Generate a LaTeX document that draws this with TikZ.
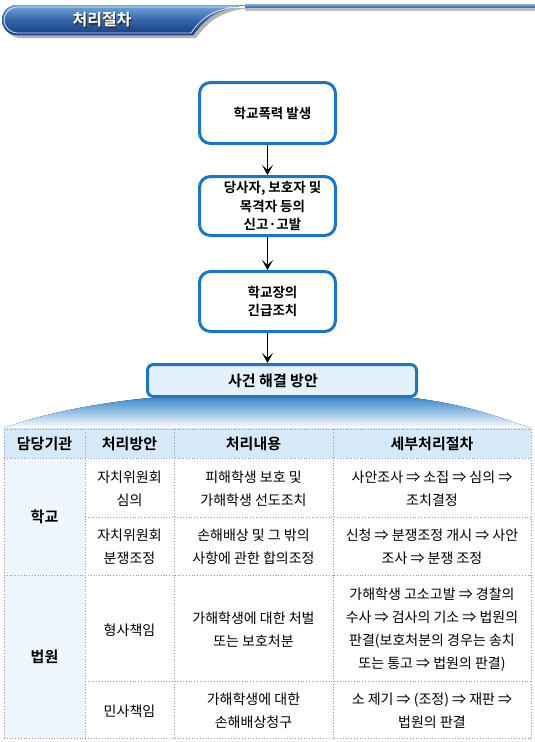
\documentclass[tikz,border=0pt]{standalone}
\usepackage{fontspec}
\setmainfont{Noto Sans CJK KR}[BoldFont={Noto Sans CJK KR Bold}]
\usetikzlibrary{arrows.meta}
\definecolor{boxblue}{RGB}{32,117,192}
\definecolor{bannerfill}{RGB}{226,241,252}
\definecolor{headfill}{RGB}{214,233,248}
\definecolor{colfill}{RGB}{239,246,253}
\definecolor{gridc}{RGB}{150,150,205}
\definecolor{pilltop}{RGB}{120,165,220}
\definecolor{pillmid}{RGB}{52,100,170}
\definecolor{pillbot}{RGB}{22,62,128}
\definecolor{fanblue}{RGB}{62,138,202}
\begin{document}
\begin{tikzpicture}[x=1pt,y=-1pt,
  flowbox/.style={draw=boxblue,line width=3pt,rounded corners=11pt,fill=white,
    minimum width=136pt,inner sep=0pt},
  flowtxt/.style={font=\fontsize{13.5}{18.5}\selectfont\bfseries,align=center,inner sep=0pt},
  arr/.style={-{Stealth[length=10pt,width=11pt,inset=5pt]},line width=0.9pt,black},
  grid/.style={gridc,line width=0.8pt,dotted},
  headtxt/.style={font=\fontsize{15}{17}\selectfont\bfseries,inner sep=0pt},
  celltxt/.style={font=\fontsize{14}{23}\selectfont,align=center,inner sep=0pt},
]
\useasboundingbox (0,0) rectangle (535,742);

% ---- title pill ----
\fill[black!25] (245,7.5) rectangle (535,11);
\fill[black!30] (20,8) -- (252,8) .. controls (218,10) and (206,25) .. (196,38) -- (20,38)
  .. controls (11.7,38) and (5,31.3) .. (5,23) .. controls (5,14.7) and (11.7,8) .. (20,8) -- cycle;
\fill[top color=pilltop,bottom color=pillbot,middle color=pillmid]
  (17,5) -- (250,5) .. controls (215,7) and (203,22) .. (193,35) -- (17,35)
  .. controls (8.7,35) and (2,28.3) .. (2,20) .. controls (2,11.7) and (8.7,5) .. (17,5) -- cycle;
\draw[white!70!pilltop,line width=0.8pt]
  (18,7) -- (236,7) .. controls (208,10) and (199,22) .. (191,33) -- (18,33)
  .. controls (10,33) and (4,27) .. (4,20) .. controls (4,13) and (10,7) .. (18,7) -- cycle;
\fill[top color=pilltop,bottom color=pillmid] (245,4.5) rectangle (535,7.5);
\node[font=\fontsize{16}{18}\selectfont\bfseries,text=black!80,inner sep=0pt] (titleshadow) at (103.2,21.2) {처리절차};
\node[font=\fontsize{16}{18}\selectfont\bfseries,text=white,inner sep=0pt] (title) at (102,20) {처리절차};

% ---- flow boxes ----
\node[flowbox,minimum height=61pt] (b1) at (267.5,113) {};
\node[flowtxt] (t1) at ([xshift=5pt]b1.center) {학교폭력 발생};
\node[flowbox,minimum height=59pt] (b2) at (267.5,206) {};
\node[flowtxt] (t2) at ([xshift=5pt]b2.center) {당사자, 보호자 및\\목격자 등의\\신고·고발};
\node[flowbox,minimum height=60pt] (b3) at (267.5,301.5) {};
\node[flowtxt] (t3) at ([xshift=5pt]b3.center) {학교장의\\긴급조치};

% ---- fan ----
\fill[top color=fanblue,bottom color=white]
  (148,398) .. controls (80,405) and (30,418) .. (4,428) -- (531,428)
  .. controls (500,418) and (470,405) .. (414,398) -- cycle;

\node[draw=boxblue,line width=3pt,rounded corners=6pt,fill=bannerfill,
  minimum width=269pt,minimum height=32pt,inner sep=0pt] (ban) at (282,380.5) {};
\node[flowtxt,font=\fontsize{15}{17}\selectfont\bfseries] (bant) at (273,380.5) {사건 해결 방안};

\draw[arr] (b1.south) -- (b2.north);
\draw[arr] (b2.south) -- (b3.north);
\draw[arr] (b3.south) -- (b3.south |- ban.north);

% ---- table ----
\fill[white] (4,429) rectangle (531,738);
\fill[headfill] (4,429) rectangle (531,458);
\fill[colfill] (4,458) rectangle (85,738);
\draw[grid] (4,429) -- (531,429);
\draw[grid] (4,458) -- (531,458);
\draw[grid] (85,517) -- (531,517);
\draw[grid] (4,575) -- (531,575);
\draw[grid] (85,681) -- (531,681);
\draw[grid] (4,738) -- (531,738);
\draw[grid] (4,429) -- (4,738);
\draw[grid] (85,429) -- (85,738);
\draw[grid] (174,429) -- (174,738);
\draw[grid] (333,429) -- (333,738);
\draw[grid] (531,429) -- (531,738);

\node[headtxt] (h1) at (44.5,443.5) {담당기관};
\node[headtxt] (h2) at (129.5,443.5) {처리방안};
\node[headtxt] (h3) at (253.5,443.5) {처리내용};
\node[headtxt] (h4) at (432,443.5) {세부처리절차};

\node[headtxt] (school) at (44.5,517) {학교};
\node[headtxt] (court) at (44.5,657) {법원};

\node[celltxt] (r1c2) at (129.5,489) {자치위원회\\심의};
\node[celltxt] (r1c3) at (253.5,489) {피해학생 보호 및\\가해학생 선도조치};
\node[celltxt] (r1c4) at (432,489) {사안조사 ⇒ 소집 ⇒ 심의 ⇒\\조치결정};

\node[celltxt] (r2c2) at (129.5,547) {자치위원회\\분쟁조정};
\node[celltxt] (r2c3) at (253.5,547) {손해배상 및 그 밖의\\사항에 관한 합의조정};
\node[celltxt] (r2c4) at (432,547) {신청 ⇒ 분쟁조정 개시 ⇒ 사안\\조사 ⇒ 분쟁 조정};

\node[celltxt] (r3c2) at (129.5,630) {형사책임};
\node[celltxt] (r3c3) at (253.5,630) {가해학생에 대한 처벌\\또는 보호처분};
\node[celltxt] (r3c4) at (432,630) {가해학생 고소고발 ⇒ 경찰의\\수사 ⇒ 검사의 기소 ⇒ 법원의\\판결(보호처분의 경우는 송치\\또는 통고 ⇒ 법원의 판결)};

\node[celltxt] (r4c2) at (129.5,711) {민사책임};
\node[celltxt] (r4c3) at (253.5,711) {가해학생에 대한\\손해배상청구};
\node[celltxt] (r4c4) at (432,711) {소 제기 ⇒ (조정) ⇒ 재판 ⇒\\법원의 판결};
\end{tikzpicture}
\end{document}
